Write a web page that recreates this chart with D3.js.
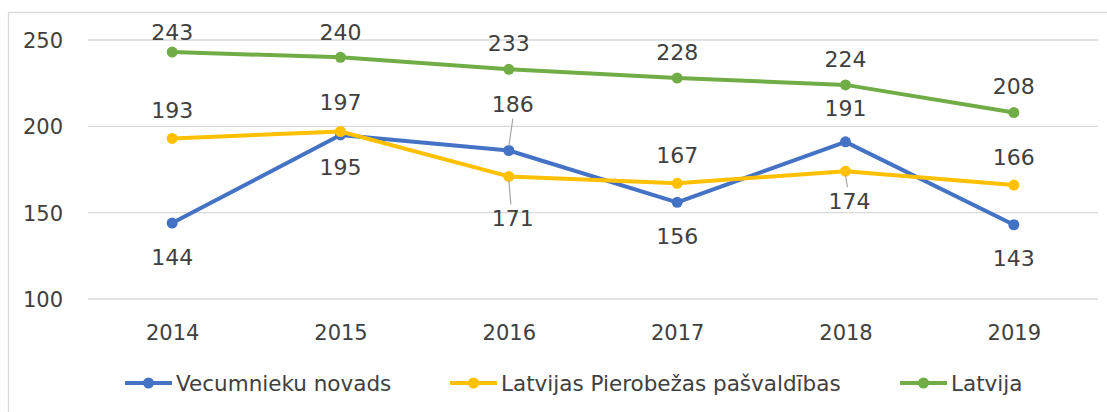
<!DOCTYPE html>
<html>
<head>
<meta charset="utf-8">
<script src="https://cdn.jsdelivr.net/npm/d3@7"></script>
<style>
  body { margin: 0; background: #fff; }
  svg { font-family: "DejaVu Sans", sans-serif; }
  .grid line { stroke: #d9d9d9; stroke-width: 1.3; }
</style>
</head>
<body>
<svg width="1107" height="412"></svg>
<script>
// **** Data ****
var years = ['2014', '2015', '2016', '2017', '2018', '2019'];
var vecumnieki = [144, 195, 186, 156, 191, 143];
var pierobezas = [193, 197, 171, 167, 174, 166];
var latvija = [243, 240, 233, 228, 224, 208];
var yTicks = [100, 150, 200, 250];
var seriesNames = ['Vecumnieku novads', 'Latvijas Pierobežas pašvaldības', 'Latvija'];

// label placement: vertical offset from point (layout only)
var labelDy = {
    'Vecumnieku novads': [34, 32, -46, 34, -34, 34],
    'Latvijas Pierobežas pašvaldības': [-28, -29, 42, -28, 30, -28],
    'Latvija': [-20, -25, -26, -26, -26, -26]
};
var leaderLines = { 'Vecumnieku novads': [2], 'Latvijas Pierobežas pašvaldības': [2, 4] };

var series = [
    { name: seriesNames[0], values: vecumnieki, color: '#4472c4' },
    { name: seriesNames[1], values: pierobezas, color: '#ffc000' },
    { name: seriesNames[2], values: latvija, color: '#70ad47' }
];

var svg = d3.select('svg');

// outer frame
svg.append('rect')
    .attr('x', 8.5).attr('y', 12.5)
    .attr('width', 1120).attr('height', 420)
    .attr('fill', 'none').attr('stroke', '#d9d9d9').attr('stroke-width', 1.3);

var x = d3.scalePoint().domain(years).range([88, 1098]).padding(0.5);
var y = d3.scaleLinear().domain([100, 250]).range([299, 40]);

// gridlines
svg.append('g').attr('class', 'grid')
    .selectAll('line').data(yTicks).enter().append('line')
    .attr('x1', 88).attr('x2', 1098)
    .attr('y1', d => y(d)).attr('y2', d => y(d));

// y axis labels
var yAxis = svg.append('g')
    .attr('transform', 'translate(63,0)')
    .call(d3.axisLeft(y).tickValues(yTicks).tickSize(0).tickPadding(0));
yAxis.select('.domain').remove();
yAxis.selectAll('text')
    .attr('text-anchor', 'end').attr('dy', '0.35em')
    .attr('font-family', '"DejaVu Sans", sans-serif')
    .attr('font-size', 21).attr('fill', '#404040');

// x axis labels
var xAxis = svg.append('g')
    .attr('transform', 'translate(0,299)')
    .call(d3.axisBottom(x).tickSize(0).tickPadding(0));
xAxis.select('.domain').remove();
xAxis.selectAll('text')
    .attr('dy', '0.35em').attr('y', 34)
    .attr('font-family', '"DejaVu Sans", sans-serif')
    .attr('font-size', 21).attr('fill', '#404040');

var line = d3.line()
    .x((d, i) => x(years[i]))
    .y(d => y(d));

series.forEach(function(s) {
    svg.append('path')
        .datum(s.values)
        .attr('fill', 'none')
        .attr('stroke', s.color)
        .attr('stroke-width', 4)
        .attr('stroke-linejoin', 'round')
        .attr('d', line);

    svg.append('g').selectAll('circle')
        .data(s.values).enter().append('circle')
        .attr('cx', (d, i) => x(years[i]))
        .attr('cy', d => y(d))
        .attr('r', 5.5)
        .attr('fill', s.color);
});

// leader lines
series.forEach(function(s) {
    (leaderLines[s.name] || []).forEach(function(i) {
        var dy = labelDy[s.name][i];
        var px = x(years[i]), py = y(s.values[i]);
        var ly = py + dy + (dy < 0 ? 14 : -14);
        svg.append('line')
            .attr('x1', px).attr('y1', py + (dy < 0 ? -4 : 4))
            .attr('x2', px + (dy < 0 ? 4 : 2)).attr('y2', ly)
            .attr('stroke', '#a6a6a6').attr('stroke-width', 1.2);
    });
});

// data labels
series.forEach(function(s) {
    var shifted = leaderLines[s.name] || [];
    svg.append('g').selectAll('text')
        .data(s.values).enter().append('text')
        .attr('x', (d, i) => x(years[i]) + (shifted.indexOf(i) >= 0 ? 4 : 0))
        .attr('y', (d, i) => y(d) + labelDy[s.name][i])
        .attr('dy', '0.35em')
        .attr('text-anchor', 'middle')
        .attr('fill', '#404040')
        .attr('font-size', 22)
        .text(d => d);
});

// legend
var legendX = [125, 450, 900];
var legend = svg.append('g');
series.forEach(function(s, i) {
    var g = legend.append('g').attr('transform', 'translate(' + legendX[i] + ',383)');
    g.append('line').attr('x1', 0).attr('x2', 47)
        .attr('stroke', s.color).attr('stroke-width', 4);
    g.append('circle').attr('cx', 23.5).attr('r', 5.5).attr('fill', s.color);
    g.append('text').attr('x', 51).attr('dy', '0.35em')
        .attr('fill', '#404040').attr('font-size', 21.5)
        .text(s.name);
});
</script>
</body>
</html>
